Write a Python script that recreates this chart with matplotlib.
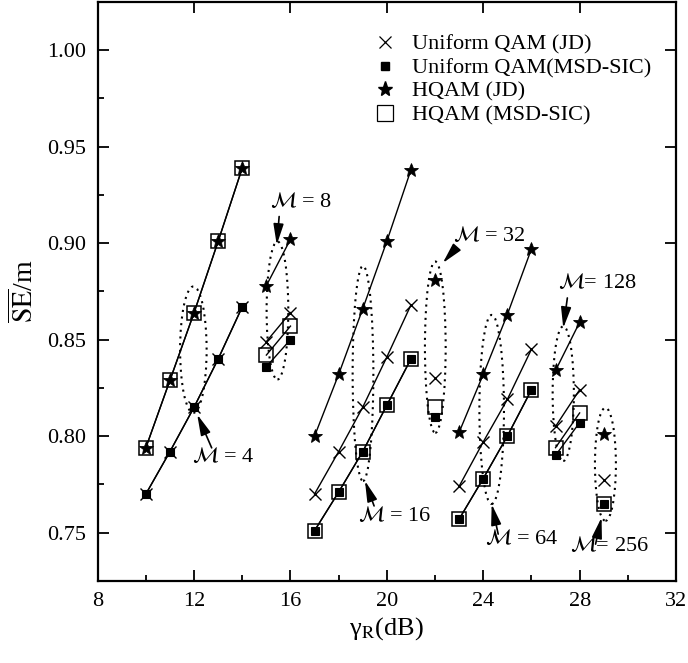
import matplotlib
matplotlib.use("Agg")
import matplotlib.pyplot as plt
from matplotlib.patches import Ellipse
from matplotlib.lines import Line2D
from matplotlib.ticker import MultipleLocator, FormatStrFormatter

plt.rcParams['font.family'] = ['Liberation Serif', 'DejaVu Serif']
plt.rcParams['mathtext.fontset'] = 'stix'

# ---------------- data ----------------
snr_M4 = [10, 11, 12, 13, 14]
uqam_jd_M4 = [0.770, 0.792, 0.815, 0.840, 0.867]
uqam_sic_M4 = [0.770, 0.792, 0.815, 0.840, 0.867]
hqam_jd_M4 = [0.794, 0.829, 0.864, 0.901, 0.939]
hqam_sic_M4 = [0.794, 0.829, 0.864, 0.901, 0.939]

snr_M8 = [15, 16]
uqam_jd_M8 = [0.849, 0.864]
uqam_sic_M8 = [0.836, 0.850]
hqam_jd_M8 = [0.878, 0.902]
hqam_sic_M8 = [0.842, 0.857]

snr_M16 = [17, 18, 19, 20, 21]
uqam_jd_M16 = [0.770, 0.792, 0.815, 0.841, 0.868]
uqam_sic_M16 = [0.751, 0.771, 0.792, 0.816, 0.840]
hqam_jd_M16 = [0.800, 0.832, 0.866, 0.901, 0.938]
hqam_sic_M16 = [0.751, 0.771, 0.792, 0.816, 0.840]

snr_M32 = [22]
uqam_jd_M32 = [0.830]
uqam_sic_M32 = [0.810]
hqam_jd_M32 = [0.881]
hqam_sic_M32 = [0.815]

snr_M64 = [23, 24, 25, 26]
uqam_jd_M64 = [0.774, 0.797, 0.819, 0.845]
uqam_sic_M64 = [0.757, 0.778, 0.800, 0.824]
hqam_jd_M64 = [0.802, 0.832, 0.863, 0.897]
hqam_sic_M64 = [0.757, 0.778, 0.800, 0.824]

snr_M128 = [27, 28]
uqam_jd_M128 = [0.805, 0.824]
uqam_sic_M128 = [0.790, 0.807]
hqam_jd_M128 = [0.834, 0.859]
hqam_sic_M128 = [0.794, 0.812]

snr_M256 = [29]
uqam_jd_M256 = [0.777]
uqam_sic_M256 = [0.765]
hqam_jd_M256 = [0.801]
hqam_sic_M256 = [0.765]

labels = ["Uniform QAM (JD)", "Uniform QAM(MSD-SIC)", "HQAM (JD)", "HQAM (MSD-SIC)"]
cluster_names = ["4", "8", "16", "32", "64", "128", "256"]

clusters = [
    (snr_M4, uqam_jd_M4, uqam_sic_M4, hqam_jd_M4, hqam_sic_M4),
    (snr_M8, uqam_jd_M8, uqam_sic_M8, hqam_jd_M8, hqam_sic_M8),
    (snr_M16, uqam_jd_M16, uqam_sic_M16, hqam_jd_M16, hqam_sic_M16),
    (snr_M32, uqam_jd_M32, uqam_sic_M32, hqam_jd_M32, hqam_sic_M32),
    (snr_M64, uqam_jd_M64, uqam_sic_M64, hqam_jd_M64, hqam_sic_M64),
    (snr_M128, uqam_jd_M128, uqam_sic_M128, hqam_jd_M128, hqam_sic_M128),
    (snr_M256, uqam_jd_M256, uqam_sic_M256, hqam_jd_M256, hqam_sic_M256),
]

# ---------------- styles ----------------
styles = [
    dict(marker='x', ms=9, mew=1.0, mfc='none', mec='k'),
    dict(marker='s', ms=6, mew=0.8, mfc='k', mec='k'),
    dict(marker='*', ms=10, mew=0.6, mfc='k', mec='k'),
    dict(marker='s', ms=10, mew=1.1, mfc='none', mec='k'),
]

fig = plt.figure(figsize=(6.88, 6.63), dpi=100)
ax = fig.add_axes([0.142, 0.124, 0.8406, 0.873])

for snr, *series in clusters:
    for s, st in zip(series, styles):
        ax.plot(snr, s, color='k', lw=1.0, ls='-', **st)

ax.set_xlim(8, 32)
ax.set_ylim(0.725, 1.025)
ax.xaxis.set_major_locator(MultipleLocator(4))
ax.xaxis.set_minor_locator(MultipleLocator(2))
ax.yaxis.set_major_locator(MultipleLocator(0.05))
ax.yaxis.set_minor_locator(MultipleLocator(0.025))
ax.yaxis.set_major_formatter(FormatStrFormatter('%.2f'))
ax.tick_params(which='both', direction='in', labelsize=16, width=1.3)
ax.tick_params(which='major', length=8, top=True, right=True, pad=8)
ax.tick_params(which='minor', length=4.5, top=False, right=False)
for sp in ax.spines.values():
    sp.set_linewidth(1.6)

ax.set_xlabel('γ$_{\\mathrm{R}}$(dB)', fontsize=19, labelpad=3)
ax.set_ylabel(r'$\overline{\mathrm{SE}}$/m', fontsize=20, labelpad=6)

# legend
handles = [
    Line2D([], [], ls='none', marker='x', ms=9, mew=0.9, mec='k'),
    Line2D([], [], ls='none', marker='s', ms=6, mfc='k', mec='k'),
    Line2D([], [], ls='none', marker='*', ms=11, mfc='k', mec='k'),
    Line2D([], [], ls='none', marker='s', ms=11, mfc='none', mec='k', mew=0.9),
]
ax.legend(handles, labels, loc='upper left', bbox_to_anchor=(0.479, 0.944),
          frameon=False, fontsize=16, borderpad=0, handlelength=0.95,
          handletextpad=0.75, labelspacing=0.13, borderaxespad=0)

# ellipses (x-center, y-center, width, height)
ell_specs = [
    (11.97, 0.8448, 1.10, 0.0655),
    (15.46, 0.8651, 0.90, 0.0715),
    (19.01, 0.8325, 0.86, 0.1115),
    (22.01, 0.8461, 0.86, 0.0888),
    (24.35, 0.8138, 1.02, 0.0980),
    (27.32, 0.8220, 0.88, 0.0698),
    (29.07, 0.7854, 0.87, 0.0586),
]
for cx, cy, w, h in ell_specs:
    ax.add_patch(Ellipse((cx, cy), w, h, fill=False, ec='k', lw=1.5,
                         ls=(0, (1, 2.2))))

# annotations: text pos, arrow tip, arrow tail, prefix
ann_specs = [
    ((11.9, 0.7893), (12.13, 0.8112), (12.73, 0.7939), r'$\mathcal{M}$ = '),
    ((15.15, 0.9215), (15.43, 0.8991), (15.53, 0.9138), r'$\mathcal{M}$ = '),
    ((18.82, 0.7587), (19.09, 0.7768), (19.47, 0.7638), r'$\mathcal{M}$ = '),
    ((22.76, 0.9038), (22.32, 0.8897), (22.83, 0.8969), r'$\mathcal{M}$ = '),
    ((24.07, 0.7466), (24.35, 0.7647), (24.62, 0.7492), r'$\mathcal{M}$ = '),
    ((27.11, 0.8793), (27.32, 0.8560), (27.49, 0.8716), r'$\mathcal{M}$= '),
    ((27.60, 0.7432), (28.91, 0.7578), (28.66, 0.7440), r'$\mathcal{M}$= '),
]
for (tpos, tip, tail, pre), cname in zip(ann_specs, cluster_names):
    ax.text(tpos[0], tpos[1], pre + cname, fontsize=16, ha='left', va='center')
    ax.annotate('', xy=tip, xytext=tail,
                arrowprops=dict(arrowstyle='-|>,head_length=0.9,head_width=0.22',
                                color='k', lw=1.2, shrinkA=0, shrinkB=0,
                                mutation_scale=14))

fig.savefig('out.png', dpi=100)
